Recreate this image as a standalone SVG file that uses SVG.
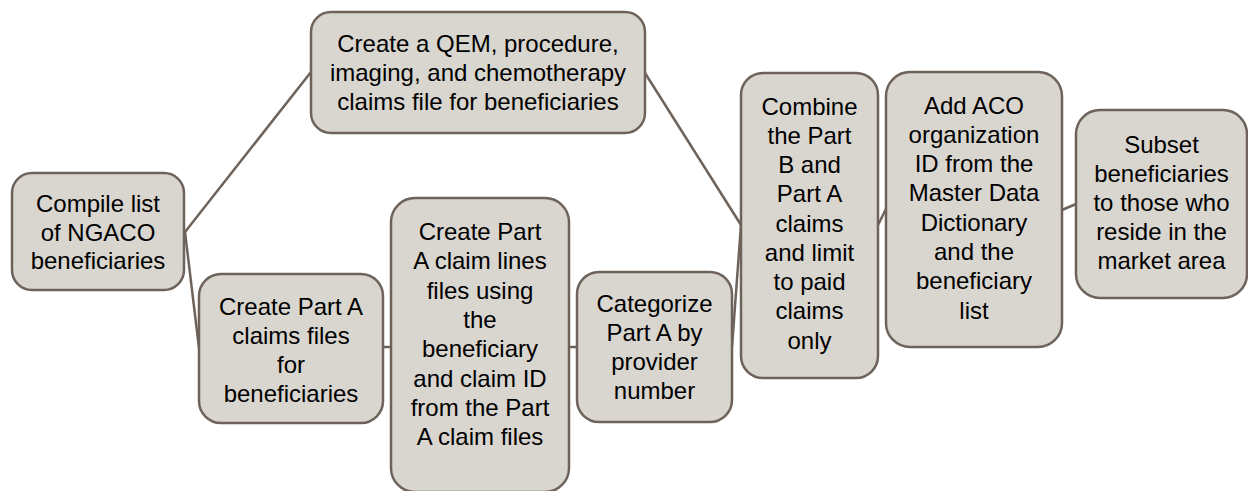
<svg xmlns="http://www.w3.org/2000/svg" width="1248" height="491" viewBox="0 0 1248 491">
<style>
.box{fill:#d9d5cf;stroke:#6e635a;stroke-width:2.5}
.lbl{font-family:"Liberation Sans",Arial,sans-serif;font-size:24px;fill:#000;text-anchor:middle}
.conn{stroke:#6e635a;stroke-width:2.5;fill:none}
</style>
<rect width="1248" height="491" fill="#ffffff"/>
<g id="connectors">
<line class="conn" x1="185" y1="232" x2="311" y2="72"/>
<line class="conn" x1="185" y1="232" x2="199" y2="348"/>
<line class="conn" x1="383" y1="347" x2="391" y2="347"/>
<line class="conn" x1="569" y1="347" x2="577" y2="347"/>
<line class="conn" x1="732" y1="347" x2="741" y2="225"/>
<line class="conn" x1="645" y1="73" x2="741" y2="225"/>
<line class="conn" x1="878" y1="225" x2="886" y2="209"/>
<line class="conn" x1="1062" y1="210" x2="1076" y2="204"/>
</g>
<g id="n1">
<rect class="box" x="12" y="173" width="172" height="117" rx="20"/>
<text class="lbl" x="98"><tspan x="98" y="212">Compile list</tspan><tspan x="98" y="240.5">of NGACO</tspan><tspan x="98" y="269">beneficiaries</tspan></text>
</g>
<g id="n2">
<rect class="box" x="311" y="12" width="334" height="121" rx="20"/>
<text class="lbl"><tspan x="478" y="52">Create a QEM, procedure,</tspan><tspan x="478" y="81">imaging, and chemotherapy</tspan><tspan x="478" y="110">claims file for beneficiaries</tspan></text>
</g>
<g id="n3">
<rect class="box" x="199" y="274" width="184" height="149" rx="22"/>
<text class="lbl"><tspan x="291" y="314.5">Create Part A</tspan><tspan x="291" y="343.5">claims files</tspan><tspan x="291" y="372.5">for</tspan><tspan x="291" y="401.5">beneficiaries</tspan></text>
</g>
<g id="n4">
<rect class="box" x="391" y="198" width="178" height="294" rx="24"/>
<text class="lbl"><tspan x="480" y="240">Create Part</tspan><tspan x="480" y="269.3">A claim lines</tspan><tspan x="480" y="298.6">files using</tspan><tspan x="480" y="327.9">the</tspan><tspan x="480" y="357.2">beneficiary</tspan><tspan x="480" y="386.5">and claim ID</tspan><tspan x="480" y="415.8">from the Part</tspan><tspan x="480" y="445.1">A claim files</tspan></text>
</g>
<g id="n5">
<rect class="box" x="577" y="272" width="155" height="150" rx="22"/>
<text class="lbl"><tspan x="654.5" y="312">Categorize</tspan><tspan x="654.5" y="341">Part A by</tspan><tspan x="654.5" y="370">provider</tspan><tspan x="654.5" y="399">number</tspan></text>
</g>
<g id="n6">
<rect class="box" x="741" y="73" width="137" height="305" rx="22"/>
<text class="lbl"><tspan x="809.5" y="114.5">Combine</tspan><tspan x="809.5" y="143.75">the Part</tspan><tspan x="809.5" y="173">B and</tspan><tspan x="809.5" y="202.25">Part A</tspan><tspan x="809.5" y="231.5">claims</tspan><tspan x="809.5" y="260.75">and limit</tspan><tspan x="809.5" y="290">to paid</tspan><tspan x="809.5" y="319.25">claims</tspan><tspan x="809.5" y="348.5">only</tspan></text>
</g>
<g id="n7">
<rect class="box" x="886" y="72" width="176" height="275" rx="24"/>
<text class="lbl"><tspan x="974" y="113.5">Add ACO</tspan><tspan x="974" y="142.8">organization</tspan><tspan x="974" y="172.1">ID from the</tspan><tspan x="974" y="201.4">Master Data</tspan><tspan x="974" y="230.7">Dictionary</tspan><tspan x="974" y="260">and the</tspan><tspan x="974" y="289.3">beneficiary</tspan><tspan x="974" y="318.6">list</tspan></text>
</g>
<g id="n8">
<rect class="box" x="1076" y="110" width="171" height="188" rx="24"/>
<text class="lbl"><tspan x="1161.5" y="152.5">Subset</tspan><tspan x="1161.5" y="181.5">beneficiaries</tspan><tspan x="1161.5" y="210.5">to those who</tspan><tspan x="1161.5" y="239.5">reside in the</tspan><tspan x="1161.5" y="268.5">market area</tspan></text>
</g>
</svg>
